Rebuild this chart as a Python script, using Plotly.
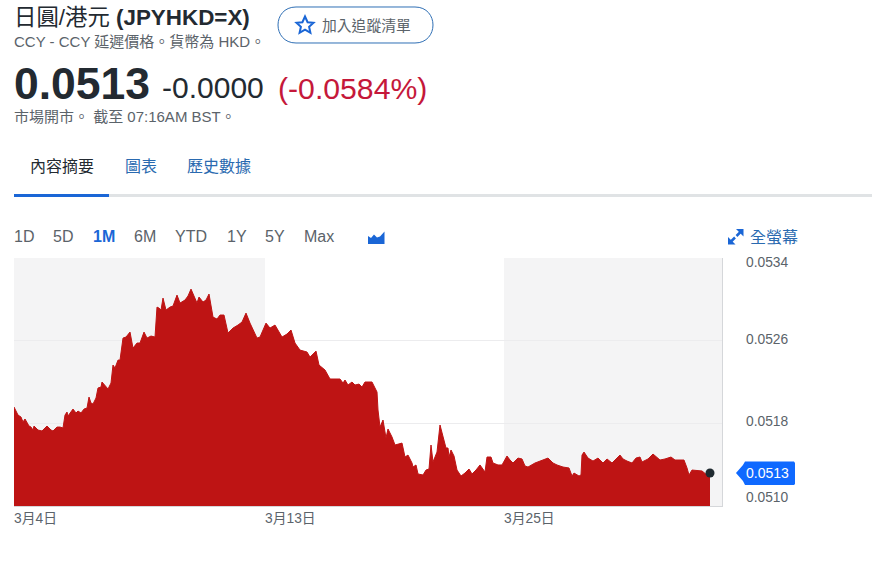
import plotly.graph_objects as go

# trading-time position along the axis, and JPY/HKD quote
positions = [0,3,4,7,9,11,13,15,17,19,20,24,28,31,33,37,39,43,46,49,51,53,54,59,62,64,67,70,73,75,77,79,82,84,87,88,91,94,97,99,101,104,106,109,112,116,119,123,126,130,133,137,141,143,145,147,149,152,156,159,163,166,171,174,177,180,183,185,189,192,195,199,203,206,210,214,219,224,228,232,236,243,246,252,256,261,268,273,277,281,286,293,296,302,305,311,316,326,329,331,334,338,341,345,348,351,358,361,363,364,366,369,370,372,374,378,381,388,391,394,398,399,402,404,409,412,415,417,419,423,426,429,432,434,435,437,440,443,447,451,455,458,462,466,471,473,477,479,484,488,493,496,499,504,508,511,514,521,526,534,539,543,549,555,558,560,565,567,568,570,574,579,584,589,593,598,606,609,613,618,622,626,628,634,639,646,651,657,661,670,673,675,678,688,693,696]
quotes = [.051958,.0519,.05188,.051861,.051813,.051842,.051803,.051774,.051764,.051735,.051774,.051735,.051726,.051755,.051774,.051735,.051726,.051764,.051764,.051755,.05188,.051909,.051871,.051938,.0519,.051919,.0519,.051938,.051948,.052054,.051996,.051987,.052045,.052142,.052151,.0522,.052161,.052132,.05219,.052364,.052335,.052412,.052412,.052625,.052635,.052683,.052528,.052577,.052577,.052683,.052625,.052645,.052635,.052925,.052915,.052896,.053012,.052896,.052925,.052935,.053041,.052964,.052993,.053032,.053099,.053032,.052964,.053022,.052974,.052993,.053051,.052828,.052809,.052848,.052848,.052674,.052722,.052751,.05278,.052867,.05277,.052625,.052635,.05277,.052722,.052751,.052635,.052664,.052703,.052577,.052509,.05249,.052441,.052499,.052364,.052316,.052229,.052229,.05219,.052219,.052171,.0522,.052171,.05218,.052151,.0522,.0522,.052142,.052103,.051929,.051764,.051832,.051755,.051658,.051745,.051668,.05159,.051609,.051474,.051493,.051416,.051377,.051397,.05131,.0513,.051348,.051358,.05159,.051426,.051522,.051784,.051668,.051561,.051561,.051474,.051542,.051484,.051348,.05129,.051319,.051358,.05131,.051348,.051397,.051329,.051474,.051474,.051416,.051397,.051397,.051484,.051445,.051416,.051464,.051455,.051387,.051377,.051416,.051435,.051464,.051416,.051397,.051377,.051368,.05129,.051319,.05129,.0513,.051493,.051522,.051464,.051435,.051464,.051416,.051455,.051416,.051493,.051455,.051435,.051416,.051464,.051474,.051426,.051455,.051503,.051445,.051455,.051474,.051445,.051445,.051368,.0513,.051348,.051339,.0513,.051319]

y_ticks = [0.0510, 0.0518, 0.0526, 0.0534]
y_labels = ["0.0510", "0.0518", "0.0526", "0.0534"]
y_label_shift = [9, 2, 1, -4]
x_ticks = [0, 251, 490]
x_labels = ["3月4日", "3月13日", "3月25日"]
x_end = 708
last_label = "0.0513"
ranges = ["1D", "5D", "1M", "6M", "YTD", "1Y", "5Y", "Max"]
range_x = [14, 53, 93, 134, 175, 227, 265, 304]

RED = "#be1414"; BLUE = "#1a66d6"; LINK = "#2a6ab0"; GREY = "#5b636a"; DARK = "#232a31"
FONT = "Liberation Sans, Arimo, Noto Sans CJK TC, sans-serif"
L, R, T, B = 14, 722, 258, 506
def X(px): return (px - L) / (R - L)
def Y(py): return (B - py) / (B - T)

fig = go.Figure()
fig.add_trace(go.Scatter(x=positions, y=quotes, mode="lines", fill="tozeroy", fillcolor=RED,
                         line=dict(color=RED, width=1), hoverinfo="skip", showlegend=False))
fig.add_trace(go.Scatter(x=positions[-1:], y=quotes[-1:], mode="markers",
                         marker=dict(color="#1f2a30", size=9), hoverinfo="skip", showlegend=False))

shapes = [
    dict(type="rect", xref="x", yref="paper", x0=x_ticks[0], x1=x_ticks[1], y0=0, y1=1, fillcolor="#f4f4f5", line_width=0, layer="below"),
    dict(type="rect", xref="x", yref="paper", x0=x_ticks[2], x1=x_end, y0=0, y1=1, fillcolor="#f4f4f5", line_width=0, layer="below"),
    # tab rail
    dict(type="rect", xref="paper", yref="paper", x0=X(14), x1=X(872), y0=Y(197), y1=Y(194), fillcolor="#e0e3e5", line_width=0),
    dict(type="rect", xref="paper", yref="paper", x0=X(14), x1=X(109), y0=Y(197), y1=Y(194), fillcolor=BLUE, line_width=0),
]

def path(points, **kw):
    d = "M " + " L ".join(f"{X(a):.5f} {Y(b):.5f}" for a, b in points) + " Z"
    return dict(type="path", xref="paper", yref="paper", path=d, **kw)

# watchlist button (rounded ends)
r = 18
x0, x1, y0, y1 = 278, 433, 7, 43
o = r * 4 / 3
btn = (f"M {X(x0+r):.5f} {Y(y0):.5f} L {X(x1-r):.5f} {Y(y0):.5f} "
       f"C {X(x1-r+o):.5f} {Y(y0):.5f} {X(x1-r+o):.5f} {Y(y1):.5f} {X(x1-r):.5f} {Y(y1):.5f} "
       f"L {X(x0+r):.5f} {Y(y1):.5f} "
       f"C {X(x0+r-o):.5f} {Y(y1):.5f} {X(x0+r-o):.5f} {Y(y0):.5f} {X(x0+r):.5f} {Y(y0):.5f} Z")
shapes.append(dict(type="path", xref="paper", yref="paper", path=btn, line=dict(color="#2f6fb5", width=1), fillcolor="white"))
# star
shapes.append(path([(305,16.5),(307.6,22.2),(313.5,22.8),(309.1,26.8),(310.4,32.8),(305,29.7),(299.6,32.8),(300.9,26.8),(296.5,22.8),(302.4,22.2)],
                   line=dict(color=BLUE, width=2), fillcolor="white"))
# area-chart icon
shapes.append(path([(368,244),(368,236),(371,238),(374,234.5),(377,237.5),(380,236.5),(384.5,231.5),(384.5,244)], fillcolor=BLUE, line_width=0))
# full-screen icon
for pts in ([(728,244.5),(728,237),(735.5,244.5)], [(743.5,229),(743.5,236.5),(736,229)]):
    shapes.append(path(pts, fillcolor=BLUE, line_width=0))
shapes.append(dict(type="line", xref="paper", yref="paper", x0=X(730), x1=X(735), y0=Y(242.5), y1=Y(237.5), line=dict(color=BLUE, width=2.5)))
shapes.append(dict(type="line", xref="paper", yref="paper", x0=X(741.5), x1=X(736.5), y0=Y(231), y1=Y(236), line=dict(color=BLUE, width=2.5)))
# last price tag
shapes.append(path([(736,473),(743,465),(745,461.5),(794,461.5),(795,463),(795,484),(794,485),(745,485),(743,481)], fillcolor="#0f69ff", line_width=0))

def text(px, py, s, size, color=GREY, anchor="left", weight=None):
    t = f"<b>{s}</b>" if weight else s
    return dict(text=t, xref="paper", yref="paper", x=X(px), y=Y(py), xanchor=anchor, yanchor="middle",
                showarrow=False, borderpad=0, borderwidth=0, font=dict(size=size, color=color, family=FONT))

ann = [
    text(14, 17, "日圓/港元 <b>(JPYHKD=X)</b>", 22.4, DARK),
    text(14, 41, "CCY - CCY 延遲價格。貨幣為 HKD。", 15),
    text(322, 25.5, "加入追蹤清單", 14.8),
    text(14, 83, "0.0513", 44.5, DARK, weight=True),
    text(162, 87, "-0.0000", 30, DARK),
    text(278, 88, "(-0.0584%)", 30.2, "#c5183a"),
    text(14, 116, "市場開市。 截至 07:16AM BST。", 15),
    text(30, 166, "內容摘要", 16, DARK),
    text(125, 166, "圖表", 16, LINK),
    text(187, 166, "歷史數據", 16, LINK),
    text(750, 237, "全螢幕", 16, LINK),
    text(746, 473, last_label, 14, "white"),
]
for lab, px in zip(ranges, range_x):
    active = lab == "1M"
    ann.append(text(px, 236, lab, 16, BLUE if active else GREY, weight=active))
for v, lab, s in zip(y_ticks, y_labels, y_label_shift):
    ann.append(dict(text=lab, xref="paper", yref="y", x=X(746), y=v, yshift=s, xanchor="left", yanchor="middle",
                    showarrow=False, borderpad=0, borderwidth=0, font=dict(size=13.8, color=GREY, family=FONT)))
for v, lab in zip(x_ticks, x_labels):
    ann.append(dict(text=lab, xref="x", yref="paper", x=v, y=Y(518), xanchor="left", yanchor="middle",
                    showarrow=False, borderpad=0, borderwidth=0, font=dict(size=13.8, color=GREY, family=FONT)))

fig.update_layout(
    width=872, height=566, autosize=False,
    margin=dict(l=L, r=872 - R, t=T, b=566 - B, pad=0),
    paper_bgcolor="white", plot_bgcolor="white", showlegend=False,
    shapes=shapes, annotations=ann,
    xaxis=dict(range=[0, x_end], showgrid=False, zeroline=False, showticklabels=False, ticks="",
               showline=True, linecolor="#d5d7da", linewidth=1, fixedrange=True),
    yaxis=dict(range=[y_ticks[0], y_ticks[-1]], tickvals=y_ticks, showticklabels=False, ticks="", side="right",
               showgrid=True, gridcolor="#ececee", gridwidth=1, zeroline=False,
               showline=True, linecolor="#d5d7da", linewidth=1, fixedrange=True),
)
fig.write_html("out.html", config=dict(displayModeBar=False),
               post_script="document.body.style.margin='0';")
